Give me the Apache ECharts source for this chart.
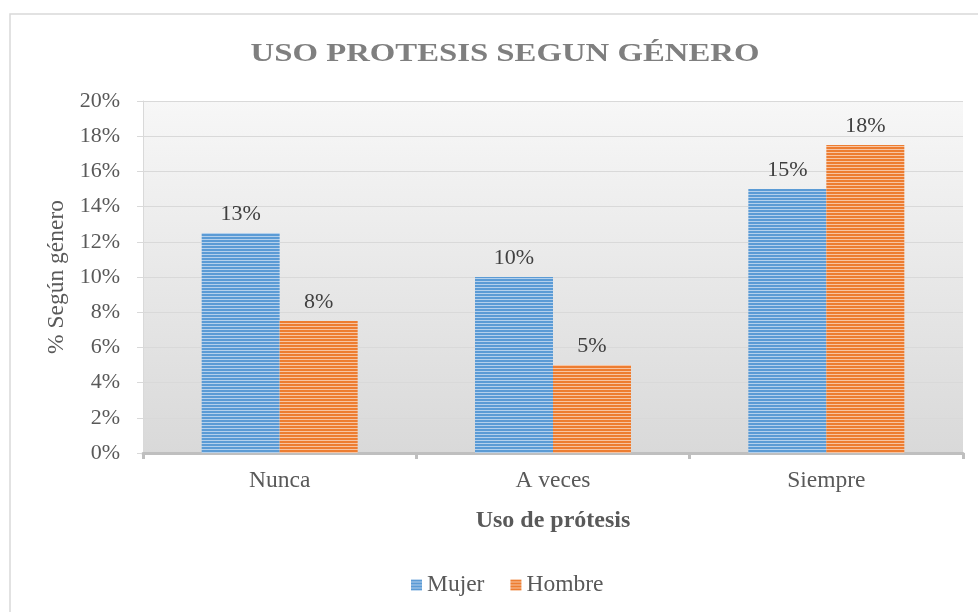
<!DOCTYPE html>
<html>
<head>
<meta charset="utf-8">
<script src="https://cdn.jsdelivr.net/npm/echarts@6/dist/echarts.min.js"></script>
<style>
  html, body { margin: 0; padding: 0; background: #fff; }
  #main { width: 978px; height: 612px; }
</style>
</head>
<body>
<div id="main"></div>
<script>
// datos del gráfico
var categorias = ['Nunca', 'A veces', 'Siempre'];
var mujer = [12.5, 10, 15];
var hombre = [7.5, 5, 17.5];
var ticksY = [0, 2, 4, 6, 8, 10, 12, 14, 16, 18, 20];

// patrón de rayas horizontales para las barras
function rayas(oscuro, claro) {
    var c = document.createElement('canvas');
    c.width = 4;
    c.height = 3;
    var ctx = c.getContext('2d');
    ctx.fillStyle = oscuro;
    ctx.fillRect(0, 0, 4, 2);
    ctx.fillStyle = claro;
    ctx.fillRect(0, 2, 4, 1);
    return { image: c, repeat: 'repeat' };
}

var fuente = 'Liberation Serif';
var chart = echarts.init(document.getElementById('main'));

var option = {
    animation: false,
    graphic: [{
        // marco del gráfico
        type: 'rect',
        shape: { x: 10, y: 14, width: 1100, height: 700 },
        style: { fill: 'none', stroke: '#d9d9d9', lineWidth: 1.5 },
        silent: true
    }, {
        // título (ensanchado para imitar el espaciado de letras)
        type: 'text',
        x: 505,
        y: 54,
        scaleX: 1.26,
        silent: true,
        style: {
            text: 'USO PROTESIS SEGUN GÉNERO',
            align: 'center',
            verticalAlign: 'middle',
            fontFamily: fuente,
            fontWeight: 'bold',
            fontSize: 26,
            fill: '#7f7f7f'
        }
    }],
    legend: {
        left: 406,
        top: 568,
        itemWidth: 11,
        itemHeight: 11,
        itemGap: 26,
        icon: 'rect',
        textStyle: { fontFamily: fuente, fontSize: 23.5, color: '#595959' },
        data: ['Mujer', 'Hombre']
    },
    grid: {
        left: 143,
        right: 15,
        top: 101,
        bottom: 159,
        show: true,
        borderWidth: 0,
        backgroundColor: {
            type: 'linear', x: 0, y: 0, x2: 0, y2: 1,
            colorStops: [
                { offset: 0, color: '#f7f7f7' },
                { offset: 1, color: '#d9d9d9' }
            ]
        }
    },
    xAxis: {
        type: 'category',
        data: categorias,
        name: 'Uso de prótesis',
        nameLocation: 'middle',
        nameGap: 56,
        nameTextStyle: { fontFamily: fuente, fontSize: 24, fontWeight: 'bold', color: '#595959' },
        axisLine: { lineStyle: { color: '#bfbfbf', width: 3 } },
        axisTick: { show: true, length: 6, lineStyle: { color: '#bfbfbf', width: 3 } },
        axisLabel: { fontFamily: fuente, fontSize: 23.5, color: '#595959', margin: 16 }
    },
    yAxis: {
        type: 'value',
        min: ticksY[0],
        max: ticksY[ticksY.length - 1],
        interval: 2,
        name: '% Según género',
        nameLocation: 'middle',
        nameGap: 72,
        nameTextStyle: { fontFamily: fuente, fontSize: 23.5, color: '#595959' },
        axisLine: { show: true, lineStyle: { color: '#d9d9d9', width: 1 } },
        axisTick: { show: true, length: 6, lineStyle: { color: '#d9d9d9' } },
        axisLabel: { fontFamily: fuente, fontSize: 22, color: '#595959', margin: 23, formatter: '{value}%' },
        splitLine: { lineStyle: { color: '#d9d9d9', width: 1 } }
    },
    series: [{
        name: 'Mujer',
        type: 'bar',
        data: mujer,
        barWidth: 78,
        barGap: '0%',
        itemStyle: { color: rayas('#5b9bd5', '#b4d0ec') },
        label: {
            show: true, position: 'top', distance: 8,
            fontFamily: fuente, fontSize: 22, color: '#404040',
            formatter: function (p) { return Math.round(p.value) + '%'; }
        }
    }, {
        name: 'Hombre',
        type: 'bar',
        data: hombre,
        barWidth: 78,
        barGap: '0%',
        itemStyle: { color: rayas('#ed7d31', '#f7c4a2') },
        label: {
            show: true, position: 'top', distance: 8,
            fontFamily: fuente, fontSize: 22, color: '#404040',
            formatter: function (p) { return Math.round(p.value) + '%'; }
        }
    }]
};

chart.setOption(option);
</script>
</body>
</html>
